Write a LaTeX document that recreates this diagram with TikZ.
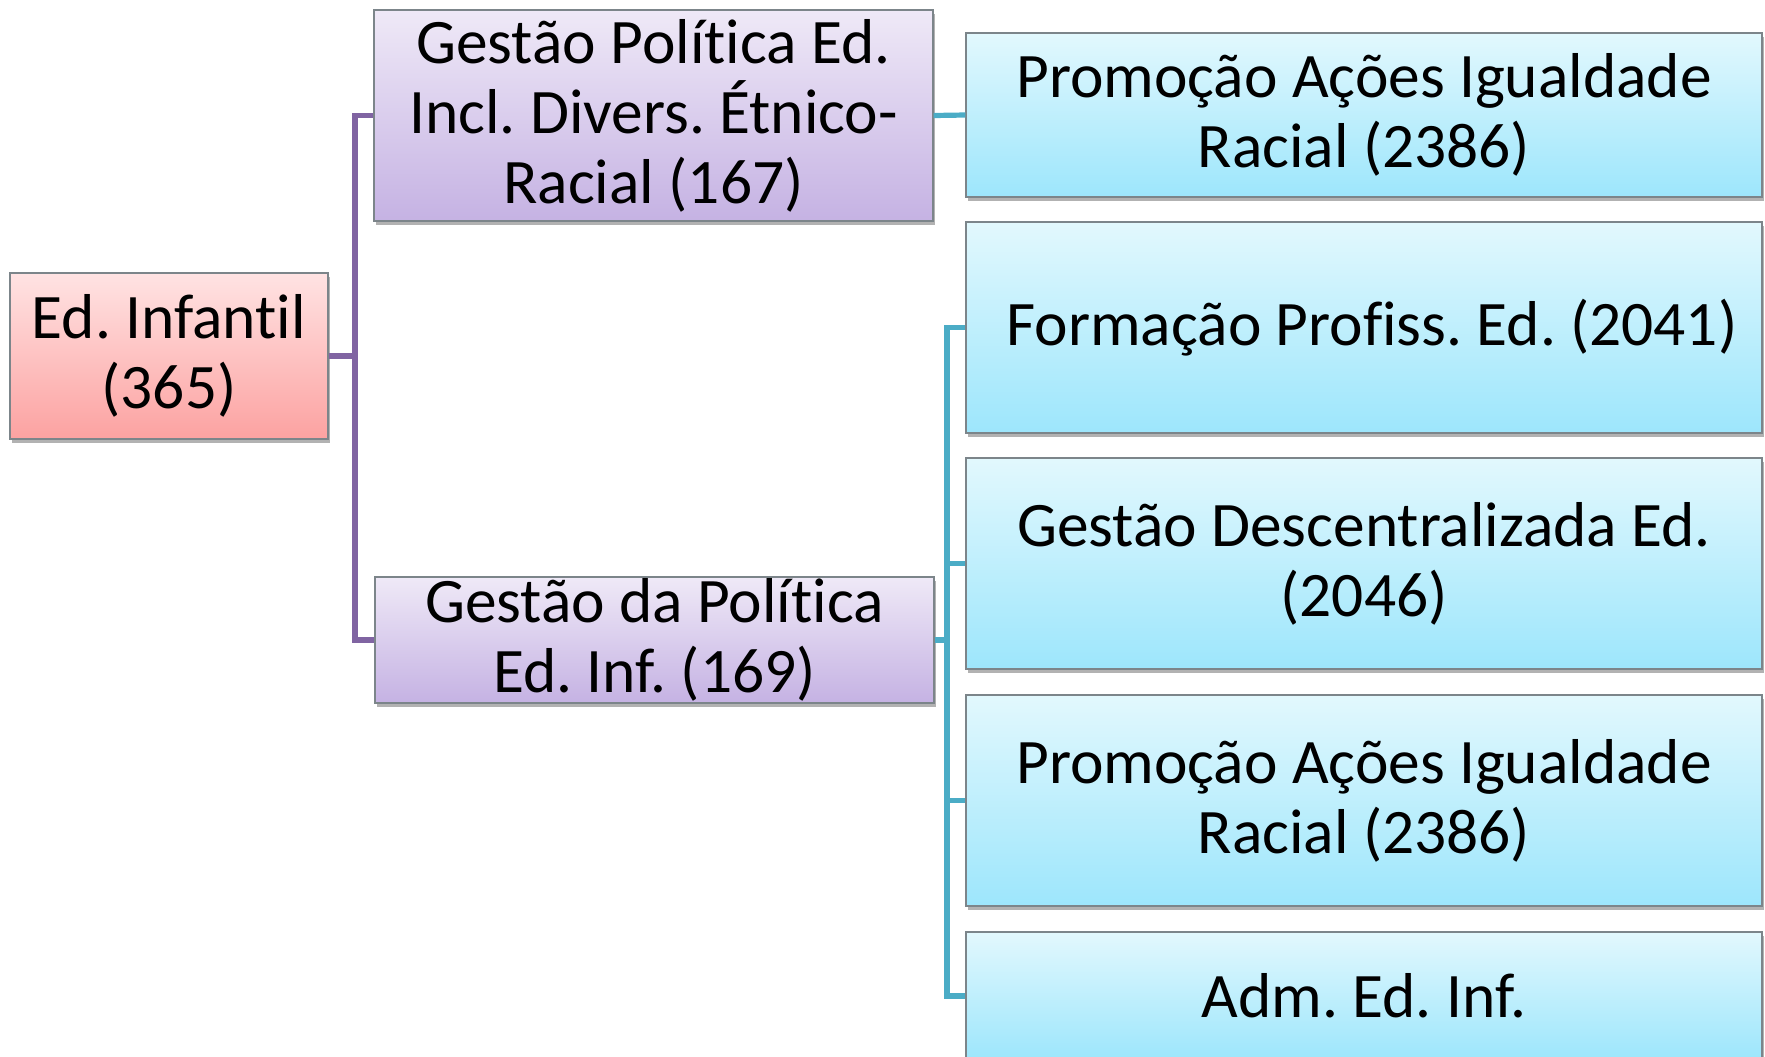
\documentclass[tikz,border=0pt]{standalone}
\usepackage{fontspec}
\setmainfont[Ligatures=NoCommon]{Carlito}
\frenchspacing
\usetikzlibrary{shadows}
\definecolor{pline}{HTML}{8064A2}
\definecolor{cline}{HTML}{4BACC6}
\definecolor{bordc}{HTML}{7C858A}
\definecolor{ptop}{HTML}{EFE9F7}
\definecolor{pbot}{HTML}{C5B2E3}
\definecolor{rtop}{HTML}{FFE3E3}
\definecolor{rbot}{HTML}{FCA2A1}
\definecolor{ctop}{HTML}{E2F8FD}
\definecolor{cbot}{HTML}{9DE6FC}
\tikzset{
  box/.style={rectangle, draw=bordc, line width=0.7pt, align=center, inner sep=0pt,
    font=\fontsize{31.7}{35}\selectfont, text=black,
    drop shadow={shadow xshift=1pt, shadow yshift=-2pt, opacity=0.3, fill=black}},
  redbox/.style={box, top color=rtop, bottom color=rbot},
  purbox/.style={box, top color=ptop, bottom color=pbot},
  cyabox/.style={box, top color=ctop, bottom color=cbot, minimum width=398pt},
  pconn/.style={draw=pline, line width=2.6pt},
  cconn/.style={draw=cline, line width=2.6pt}
}
\begin{document}
\begin{tikzpicture}[x=0.5pt,y=-0.5pt]
\useasboundingbox (0,0) rectangle (1765,1056);
\node[redbox, minimum width=159pt, minimum height=83pt] (inf) at (169,356) {Ed. Infantil\\(365)};
\node[purbox, minimum width=279.5pt, minimum height=105.5pt] (gp1) at (653.5,115.5) {Gestão Política Ed.\\Incl. Divers. Étnico-\\Racial (167)};
\node[purbox, minimum width=279.5pt, minimum height=63pt] (gp2) at (654.5,640) {Gestão da Política\\Ed. Inf. (169)};
\node[cyabox, minimum height=82pt] (c1) at (1364,115) {Promoção Ações Igualdade\\Racial (2386)};
\node[cyabox, minimum height=105.5pt] (c2) at (1364,327.5) {\hspace*{8pt}Formação Profiss. Ed. (2041)};
\node[cyabox, minimum height=105.5pt] (c3) at (1364,563.5) {Gestão Descentralizada Ed.\\(2046)};
\node[cyabox, minimum height=105.5pt] (c4) at (1364,800.5) {Promoção Ações Igualdade\\Racial (2386)};
\node[cyabox, minimum height=64pt] (c5) at (1364,996) {Adm. Ed. Inf.};
\coordinate (pj) at (355,356);
\coordinate (cj) at (947,640);
\begin{scope}[on background layer/.try]
\draw[pconn] (inf.east) -- (pj);
\draw[pconn] (pj) |- (gp1.west);
\draw[pconn] (pj) |- (gp2.west);
\draw[cconn] (gp1.east) -- (c1.west);
\draw[cconn] (gp2.east) -- (cj);
\draw[cconn] (cj) |- (c2.west);
\draw[cconn] (cj) |- (c3.west);
\draw[cconn] (cj) |- (c4.west);
\draw[cconn] (cj) |- (c5.west);
\end{scope}
\end{tikzpicture}
\end{document}
